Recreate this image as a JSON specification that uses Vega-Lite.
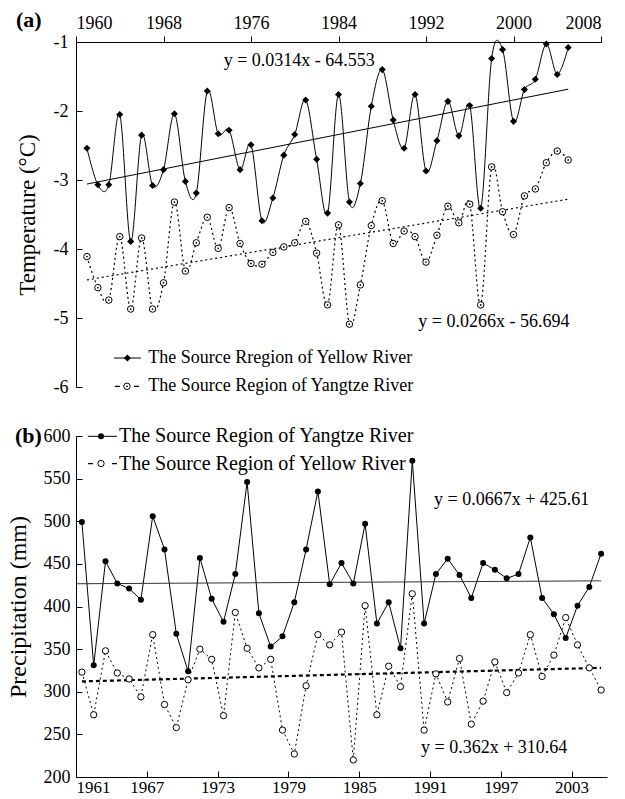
{
  "$schema": "https://vega.github.io/schema/vega-lite/v6.json",
  "padding": {"left": 6, "top": 9, "right": 5, "bottom": 0},
  "background": "white",
  "spacing": 49,
  "bounds": "flush",
  "datasets": {
    "temp": [
      {"year":1961,"series":"Yellow","v":-2.54},{"year":1962,"series":"Yellow","v":-3.07},{"year":1963,"series":"Yellow","v":-3.07},{"year":1964,"series":"Yellow","v":-2.05},{"year":1965,"series":"Yellow","v":-3.89},{"year":1966,"series":"Yellow","v":-2.35},{"year":1967,"series":"Yellow","v":-3.08},{"year":1968,"series":"Yellow","v":-2.85},{"year":1969,"series":"Yellow","v":-2.04},{"year":1970,"series":"Yellow","v":-3.02},{"year":1971,"series":"Yellow","v":-3.19},{"year":1972,"series":"Yellow","v":-1.71},{"year":1973,"series":"Yellow","v":-2.33},{"year":1974,"series":"Yellow","v":-2.28},{"year":1975,"series":"Yellow","v":-2.85},{"year":1976,"series":"Yellow","v":-2.49},{"year":1977,"series":"Yellow","v":-3.59},{"year":1978,"series":"Yellow","v":-3.26},{"year":1979,"series":"Yellow","v":-2.64},{"year":1980,"series":"Yellow","v":-2.34},{"year":1981,"series":"Yellow","v":-1.84},{"year":1982,"series":"Yellow","v":-2.70},{"year":1983,"series":"Yellow","v":-3.48},{"year":1984,"series":"Yellow","v":-1.76},{"year":1985,"series":"Yellow","v":-3.32},{"year":1986,"series":"Yellow","v":-3.05},{"year":1987,"series":"Yellow","v":-1.93},{"year":1988,"series":"Yellow","v":-1.40},{"year":1989,"series":"Yellow","v":-2.13},{"year":1990,"series":"Yellow","v":-2.54},{"year":1991,"series":"Yellow","v":-1.76},{"year":1992,"series":"Yellow","v":-2.87},{"year":1993,"series":"Yellow","v":-2.43},{"year":1994,"series":"Yellow","v":-1.86},{"year":1995,"series":"Yellow","v":-2.36},{"year":1996,"series":"Yellow","v":-1.92},{"year":1997,"series":"Yellow","v":-3.41},{"year":1998,"series":"Yellow","v":-1.24},{"year":1999,"series":"Yellow","v":-1.11},{"year":2000,"series":"Yellow","v":-2.15},{"year":2001,"series":"Yellow","v":-1.69},{"year":2002,"series":"Yellow","v":-1.54},{"year":2003,"series":"Yellow","v":-1.03},{"year":2004,"series":"Yellow","v":-1.47},{"year":2005,"series":"Yellow","v":-1.08},
      {"year":1961,"series":"Yangtze","v":-4.11},{"year":1962,"series":"Yangtze","v":-4.56},{"year":1963,"series":"Yangtze","v":-4.74},{"year":1964,"series":"Yangtze","v":-3.82},{"year":1965,"series":"Yangtze","v":-4.87},{"year":1966,"series":"Yangtze","v":-3.84},{"year":1967,"series":"Yangtze","v":-4.87},{"year":1968,"series":"Yangtze","v":-4.49},{"year":1969,"series":"Yangtze","v":-3.32},{"year":1970,"series":"Yangtze","v":-4.32},{"year":1971,"series":"Yangtze","v":-3.91},{"year":1972,"series":"Yangtze","v":-3.54},{"year":1973,"series":"Yangtze","v":-3.99},{"year":1974,"series":"Yangtze","v":-3.40},{"year":1975,"series":"Yangtze","v":-3.92},{"year":1976,"series":"Yangtze","v":-4.21},{"year":1977,"series":"Yangtze","v":-4.22},{"year":1978,"series":"Yangtze","v":-4.05},{"year":1979,"series":"Yangtze","v":-3.97},{"year":1980,"series":"Yangtze","v":-3.91},{"year":1981,"series":"Yangtze","v":-3.60},{"year":1982,"series":"Yangtze","v":-4.06},{"year":1983,"series":"Yangtze","v":-4.81},{"year":1984,"series":"Yangtze","v":-3.65},{"year":1985,"series":"Yangtze","v":-5.09},{"year":1986,"series":"Yangtze","v":-4.52},{"year":1987,"series":"Yangtze","v":-3.66},{"year":1988,"series":"Yangtze","v":-3.30},{"year":1989,"series":"Yangtze","v":-3.92},{"year":1990,"series":"Yangtze","v":-3.74},{"year":1991,"series":"Yangtze","v":-3.82},{"year":1992,"series":"Yangtze","v":-4.19},{"year":1993,"series":"Yangtze","v":-3.80},{"year":1994,"series":"Yangtze","v":-3.38},{"year":1995,"series":"Yangtze","v":-3.62},{"year":1996,"series":"Yangtze","v":-3.35},{"year":1997,"series":"Yangtze","v":-4.81},{"year":1998,"series":"Yangtze","v":-2.81},{"year":1999,"series":"Yangtze","v":-3.46},{"year":2000,"series":"Yangtze","v":-3.79},{"year":2001,"series":"Yangtze","v":-3.23},{"year":2002,"series":"Yangtze","v":-3.13},{"year":2003,"series":"Yangtze","v":-2.75},{"year":2004,"series":"Yangtze","v":-2.58},{"year":2005,"series":"Yangtze","v":-2.71}
    ],
    "precip": [
      {"year":1961,"series":"Yangtze","v":499},{"year":1962,"series":"Yangtze","v":331},{"year":1963,"series":"Yangtze","v":453},{"year":1964,"series":"Yangtze","v":427},{"year":1965,"series":"Yangtze","v":421},{"year":1966,"series":"Yangtze","v":408},{"year":1967,"series":"Yangtze","v":506},{"year":1968,"series":"Yangtze","v":467},{"year":1969,"series":"Yangtze","v":368},{"year":1970,"series":"Yangtze","v":324},{"year":1971,"series":"Yangtze","v":457},{"year":1972,"series":"Yangtze","v":409},{"year":1973,"series":"Yangtze","v":382},{"year":1974,"series":"Yangtze","v":438},{"year":1975,"series":"Yangtze","v":546},{"year":1976,"series":"Yangtze","v":392},{"year":1977,"series":"Yangtze","v":353},{"year":1978,"series":"Yangtze","v":365},{"year":1979,"series":"Yangtze","v":405},{"year":1980,"series":"Yangtze","v":467},{"year":1981,"series":"Yangtze","v":535},{"year":1982,"series":"Yangtze","v":426},{"year":1983,"series":"Yangtze","v":451},{"year":1984,"series":"Yangtze","v":427},{"year":1985,"series":"Yangtze","v":497},{"year":1986,"series":"Yangtze","v":380},{"year":1987,"series":"Yangtze","v":405},{"year":1988,"series":"Yangtze","v":351},{"year":1989,"series":"Yangtze","v":571},{"year":1990,"series":"Yangtze","v":380},{"year":1991,"series":"Yangtze","v":438},{"year":1992,"series":"Yangtze","v":456},{"year":1993,"series":"Yangtze","v":437},{"year":1994,"series":"Yangtze","v":410},{"year":1995,"series":"Yangtze","v":451},{"year":1996,"series":"Yangtze","v":443},{"year":1997,"series":"Yangtze","v":433},{"year":1998,"series":"Yangtze","v":438},{"year":1999,"series":"Yangtze","v":481},{"year":2000,"series":"Yangtze","v":410},{"year":2001,"series":"Yangtze","v":391},{"year":2002,"series":"Yangtze","v":363},{"year":2003,"series":"Yangtze","v":401},{"year":2004,"series":"Yangtze","v":423},{"year":2005,"series":"Yangtze","v":462},
      {"year":1961,"series":"Yellow","v":323},{"year":1962,"series":"Yellow","v":273},{"year":1963,"series":"Yellow","v":348},{"year":1964,"series":"Yellow","v":322},{"year":1965,"series":"Yellow","v":315},{"year":1966,"series":"Yellow","v":294},{"year":1967,"series":"Yellow","v":367},{"year":1968,"series":"Yellow","v":285},{"year":1969,"series":"Yellow","v":258},{"year":1970,"series":"Yellow","v":314},{"year":1971,"series":"Yellow","v":350},{"year":1972,"series":"Yellow","v":338},{"year":1973,"series":"Yellow","v":272},{"year":1974,"series":"Yellow","v":393},{"year":1975,"series":"Yellow","v":351},{"year":1976,"series":"Yellow","v":328},{"year":1977,"series":"Yellow","v":338},{"year":1978,"series":"Yellow","v":255},{"year":1979,"series":"Yellow","v":227},{"year":1980,"series":"Yellow","v":307},{"year":1981,"series":"Yellow","v":367},{"year":1982,"series":"Yellow","v":355},{"year":1983,"series":"Yellow","v":370},{"year":1984,"series":"Yellow","v":220},{"year":1985,"series":"Yellow","v":401},{"year":1986,"series":"Yellow","v":273},{"year":1987,"series":"Yellow","v":330},{"year":1988,"series":"Yellow","v":306},{"year":1989,"series":"Yellow","v":415},{"year":1990,"series":"Yellow","v":255},{"year":1991,"series":"Yellow","v":321},{"year":1992,"series":"Yellow","v":288},{"year":1993,"series":"Yellow","v":339},{"year":1994,"series":"Yellow","v":262},{"year":1995,"series":"Yellow","v":289},{"year":1996,"series":"Yellow","v":335},{"year":1997,"series":"Yellow","v":299},{"year":1998,"series":"Yellow","v":322},{"year":1999,"series":"Yellow","v":367},{"year":2000,"series":"Yellow","v":318},{"year":2001,"series":"Yellow","v":343},{"year":2002,"series":"Yellow","v":387},{"year":2003,"series":"Yellow","v":355},{"year":2004,"series":"Yellow","v":328},{"year":2005,"series":"Yellow","v":302}
    ],
    "legA": [
      {"s":"Yellow","x1":1963.47,"x2":1965.94,"px":1964.7,"tx":1966.6,"y":-5.58,"label":"The Source Rregion of Yellow River"},
      {"s":"Yangtze","x1":1963.56,"x2":1965.75,"px":1964.66,"tx":1966.6,"y":-5.99,"label":"The Source Region of Yangtze River"}
    ],
    "eqA": [
      {"x":1973.5,"y":-1.275,"t":"y = 0.0314x - 64.553"},
      {"x":1991.3,"y":-5.06,"t":"y = 0.0266x - 56.694"}
    ],
    "legB": [
      {"s":"Yangtze","x1":1961.52,"x2":1963.97,"px":1962.62,"tx":1964.14,"y":599.6,"label":"The Source Region of Yangtze River"},
      {"s":"Yellow","x1":1961.52,"x2":1963.97,"px":1962.62,"tx":1964.14,"y":567.7,"label":"The Source Region of Yellow River"}
    ],
    "eqB": [
      {"x":1990.84,"y":524.7,"t":"y = 0.0667x + 425.61"},
      {"x":1989.74,"y":234,"t":"y = 0.362x + 310.64"}
    ]
  },
  "vconcat": [
    {
      "title": {"text": "(a)", "anchor": "start", "frame": "group", "dx": -60, "offset": -35, "baseline": "alphabetic"},
      "width": 525,
      "height": 345,
      "encoding": {
        "x": {"type": "quantitative", "scale": {"domain": [1960, 2008], "nice": false, "zero": false},
              "axis": {"orient": "top", "values": [1960, 1968, 1976, 1984, 1992, 2000, 2008], "format": "d", "tickSize": 6, "labelPadding": 4, "title": null, "labelFontSize": 18, "labelFont": "Liberation Serif"}},
        "y": {"type": "quantitative", "scale": {"domain": [-6, -1], "nice": false, "zero": false},
              "axis": {"values": [-6, -5, -4, -3, -2, -1], "labelExpr": "'-' + abs(datum.value)", "tickSize": -6, "labelPadding": 14, "title": "Temperature (°C)", "titleFontSize": 23, "titlePadding": 14, "labelFontSize": 18, "labelFont": "Liberation Serif", "titleFont": "Liberation Serif"}}
      },
      "layer": [
        {
          "data": {"name": "temp"},
          "transform": [{"filter": "datum.series === 'Yellow'"}],
          "mark": {"type": "line", "interpolate": "cardinal", "color": "black", "strokeWidth": 1},
          "encoding": {"x": {"field": "year"}, "y": {"field": "v"}}
        },
        {
          "data": {"name": "temp"},
          "transform": [{"filter": "datum.series === 'Yellow'"}, {"regression": "v", "on": "year"}],
          "mark": {"type": "line", "color": "black", "strokeWidth": 1},
          "encoding": {"x": {"field": "year"}, "y": {"field": "v"}}
        },
        {
          "data": {"name": "temp"},
          "transform": [{"filter": "datum.series === 'Yangtze'"}],
          "mark": {"type": "line", "interpolate": "cardinal", "color": "black", "strokeWidth": 1.2, "strokeDash": [2, 3]},
          "encoding": {"x": {"field": "year"}, "y": {"field": "v"}}
        },
        {
          "data": {"name": "temp"},
          "transform": [{"filter": "datum.series === 'Yangtze'"}, {"regression": "v", "on": "year"}],
          "mark": {"type": "line", "color": "black", "strokeWidth": 1.2, "strokeDash": [2, 3]},
          "encoding": {"x": {"field": "year"}, "y": {"field": "v"}}
        },
        {
          "data": {"name": "temp"},
          "transform": [{"filter": "datum.series === 'Yellow'"}],
          "mark": {"type": "point", "shape": "diamond", "filled": true, "color": "black", "size": 50, "opacity": 1},
          "encoding": {"x": {"field": "year"}, "y": {"field": "v"}}
        },
        {
          "data": {"name": "temp"},
          "transform": [{"filter": "datum.series === 'Yangtze'"}],
          "mark": {"type": "point", "shape": "circle", "fill": "white", "stroke": "black", "strokeWidth": 1, "size": 42, "opacity": 1, "fillOpacity": 1},
          "encoding": {"x": {"field": "year"}, "y": {"field": "v"}}
        },
        {
          "data": {"name": "temp"},
          "transform": [{"filter": "datum.series === 'Yangtze'"}],
          "mark": {"type": "point", "shape": "circle", "filled": true, "color": "black", "size": 3, "opacity": 1},
          "encoding": {"x": {"field": "year"}, "y": {"field": "v"}}
        },
        {
          "data": {"name": "eqA"},
          "mark": {"type": "text", "align": "left", "baseline": "middle", "fontSize": 18, "font": "Liberation Serif", "color": "black"},
          "encoding": {"x": {"field": "x"}, "y": {"field": "y"}, "text": {"field": "t"}}
        },
        {
          "data": {"name": "legA"},
          "transform": [{"filter": "datum.s === 'Yellow'"}],
          "mark": {"type": "rule", "color": "black", "strokeWidth": 1},
          "encoding": {"x": {"field": "x1"}, "x2": {"field": "x2"}, "y": {"field": "y"}}
        },
        {
          "data": {"name": "legA"},
          "transform": [{"filter": "datum.s === 'Yangtze'"}],
          "mark": {"type": "rule", "color": "black", "strokeWidth": 1.2, "strokeDash": [5, 14]},
          "encoding": {"x": {"field": "x1"}, "x2": {"field": "x2"}, "y": {"field": "y"}}
        },
        {
          "data": {"name": "legA"},
          "transform": [{"filter": "datum.s === 'Yellow'"}],
          "mark": {"type": "point", "shape": "diamond", "filled": true, "color": "black", "size": 50, "opacity": 1},
          "encoding": {"x": {"field": "px"}, "y": {"field": "y"}}
        },
        {
          "data": {"name": "legA"},
          "transform": [{"filter": "datum.s === 'Yangtze'"}],
          "mark": {"type": "point", "shape": "circle", "fill": "white", "stroke": "black", "strokeWidth": 1, "size": 42, "opacity": 1, "fillOpacity": 1},
          "encoding": {"x": {"field": "px"}, "y": {"field": "y"}}
        },
        {
          "data": {"name": "legA"},
          "transform": [{"filter": "datum.s === 'Yangtze'"}],
          "mark": {"type": "point", "shape": "circle", "filled": true, "color": "black", "size": 3, "opacity": 1},
          "encoding": {"x": {"field": "px"}, "y": {"field": "y"}}
        },
        {
          "data": {"name": "legA"},
          "mark": {"type": "text", "align": "left", "baseline": "middle", "fontSize": 18, "font": "Liberation Serif", "color": "black"},
          "encoding": {"x": {"field": "tx"}, "y": {"field": "y"}, "text": {"field": "label"}}
        }
      ]
    },
    {
      "title": {"text": "(b)", "anchor": "start", "frame": "group", "dx": -61, "offset": -39, "baseline": "alphabetic"},
      "width": 531,
      "height": 341,
      "encoding": {
        "x": {"type": "quantitative", "scale": {"domain": [1960.5, 2005.5], "nice": false, "zero": false},
              "axis": {"orient": "bottom", "values": [1960.5, 1966.5, 1972.5, 1978.5, 1984.5, 1990.5, 1996.5, 2002.5], "labelExpr": "format(datum.value + 0.5, 'd')", "tickSize": -6, "labelPadding": 8, "title": null, "labelFontSize": 17, "labelFont": "Liberation Serif"}},
        "y": {"type": "quantitative", "scale": {"domain": [200, 600], "nice": false, "zero": false},
              "axis": {"values": [200, 250, 300, 350, 400, 450, 500, 550, 600], "tickSize": -6, "labelPadding": 12, "title": "Precipitation (mm)", "titleFontSize": 24, "titlePadding": 13, "labelFontSize": 18, "labelFont": "Liberation Serif", "titleFont": "Liberation Serif"}}
      },
      "layer": [
        {
          "data": {"name": "precip"},
          "transform": [{"filter": "datum.series === 'Yangtze'"}],
          "mark": {"type": "line", "color": "black", "strokeWidth": 1},
          "encoding": {"x": {"field": "year"}, "y": {"field": "v"}}
        },
        {
          "data": {"name": "precip"},
          "transform": [{"filter": "datum.series === 'Yangtze'"}, {"regression": "v", "on": "year", "extent": [1960.5, 2005]}],
          "mark": {"type": "line", "color": "#333333", "strokeWidth": 1},
          "encoding": {"x": {"field": "year"}, "y": {"field": "v"}}
        },
        {
          "data": {"name": "precip"},
          "transform": [{"filter": "datum.series === 'Yellow'"}],
          "mark": {"type": "line", "color": "black", "strokeWidth": 1, "strokeDash": [2, 3]},
          "encoding": {"x": {"field": "year"}, "y": {"field": "v"}}
        },
        {
          "data": {"name": "precip"},
          "transform": [{"filter": "datum.series === 'Yellow'"}, {"regression": "v", "on": "year"}],
          "mark": {"type": "line", "color": "black", "strokeWidth": 2.2, "strokeDash": [4, 3]},
          "encoding": {"x": {"field": "year"}, "y": {"field": "v"}}
        },
        {
          "data": {"name": "precip"},
          "transform": [{"filter": "datum.series === 'Yangtze'"}],
          "mark": {"type": "point", "shape": "circle", "filled": true, "color": "black", "size": 36, "opacity": 1},
          "encoding": {"x": {"field": "year"}, "y": {"field": "v"}}
        },
        {
          "data": {"name": "precip"},
          "transform": [{"filter": "datum.series === 'Yellow'"}],
          "mark": {"type": "point", "shape": "circle", "fill": "white", "stroke": "black", "strokeWidth": 1, "size": 40, "opacity": 1, "fillOpacity": 1},
          "encoding": {"x": {"field": "year"}, "y": {"field": "v"}}
        },
        {
          "data": {"name": "eqB"},
          "mark": {"type": "text", "align": "left", "baseline": "middle", "fontSize": 18, "font": "Liberation Serif", "color": "black"},
          "encoding": {"x": {"field": "x"}, "y": {"field": "y"}, "text": {"field": "t"}}
        },
        {
          "data": {"name": "legB"},
          "transform": [{"filter": "datum.s === 'Yangtze'"}],
          "mark": {"type": "rule", "color": "black", "strokeWidth": 1},
          "encoding": {"x": {"field": "x1"}, "x2": {"field": "x2"}, "y": {"field": "y"}}
        },
        {
          "data": {"name": "legB"},
          "transform": [{"filter": "datum.s === 'Yellow'"}],
          "mark": {"type": "rule", "color": "black", "strokeWidth": 1.2, "strokeDash": [5, 19]},
          "encoding": {"x": {"field": "x1"}, "x2": {"field": "x2"}, "y": {"field": "y"}}
        },
        {
          "data": {"name": "legB"},
          "transform": [{"filter": "datum.s === 'Yangtze'"}],
          "mark": {"type": "point", "shape": "circle", "filled": true, "color": "black", "size": 36, "opacity": 1},
          "encoding": {"x": {"field": "px"}, "y": {"field": "y"}}
        },
        {
          "data": {"name": "legB"},
          "transform": [{"filter": "datum.s === 'Yellow'"}],
          "mark": {"type": "point", "shape": "circle", "fill": "white", "stroke": "black", "strokeWidth": 1, "size": 40, "opacity": 1, "fillOpacity": 1},
          "encoding": {"x": {"field": "px"}, "y": {"field": "y"}}
        },
        {
          "data": {"name": "legB"},
          "mark": {"type": "text", "align": "left", "baseline": "middle", "fontSize": 20, "font": "Liberation Serif", "color": "black"},
          "encoding": {"x": {"field": "tx"}, "y": {"field": "y"}, "text": {"field": "label"}}
        }
      ]
    }
  ],
  "config": {
    "view": {"stroke": null},
    "font": "Liberation Serif",
    "axis": {"labelFont": "Liberation Serif", "titleFont": "Liberation Serif", "labelColor": "black", "titleColor": "black", "domainColor": "black", "tickColor": "black", "grid": false, "titleFontWeight": "normal", "domainWidth": 1, "tickWidth": 1},
    "title": {"font": "Liberation Serif", "fontWeight": "bold", "fontSize": 22, "color": "black"}
  }
}
